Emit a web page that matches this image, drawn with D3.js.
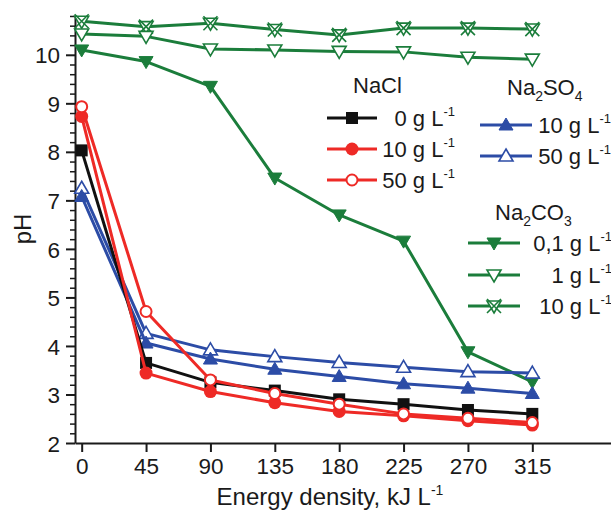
<!DOCTYPE html>
<html><head><meta charset="utf-8">
<script src="https://cdn.jsdelivr.net/npm/d3@7"></script>
<style>body{margin:0;background:#fff}svg{display:block}text{font-family:Arial,"Liberation Sans",sans-serif;fill:#1a1a1a}</style>
</head><body>
<svg id="c" width="611" height="515"></svg>
<script>
const energy = [0,45,90,135,180,225,270,315];
const xTicks = [0,45,90,135,180,225,270,315];
const yTicks = [2,3,4,5,6,7,8,9,10];
const nacl0   = [8.03,3.65,3.25,3.08,2.90,2.80,2.68,2.60];
const nacl10  = [8.73,3.44,3.06,2.83,2.65,2.56,2.46,2.37];
const nacl50  = [8.93,4.71,3.30,3.02,2.80,2.60,2.51,2.42];
const so4_10  = [7.08,4.06,3.73,3.52,3.37,3.22,3.13,3.02];
const so4_50  = [7.25,4.26,3.92,3.78,3.66,3.56,3.47,3.44];
const co3_01  = [10.10,9.86,9.35,7.46,6.70,6.16,3.88,3.26];
const co3_1   = [10.43,10.38,10.12,10.10,10.07,10.06,9.95,9.91];
const co3_10  = [10.69,10.58,10.65,10.52,10.41,10.55,10.55,10.53];

const BLACK="#111", RED="#ee2a26", BLUE="#2c4ca6", GREEN="#1b7d3b";
const series = [
  {v:co3_10, c:GREEN, m:"xtri"},
  {v:co3_1, c:GREEN, m:"tdo"},
  {v:co3_01, c:GREEN, m:"tdf"},
  {v:so4_50, c:BLUE, m:"tuo"},
  {v:so4_10, c:BLUE, m:"tuf"},
  {v:nacl0, c:BLACK, m:"sq"},
  {v:nacl10, c:RED, m:"cf"},
  {v:nacl50, c:RED, m:"co"}
];

const svg = d3.select("#c");
const x = d3.scaleLinear().domain([-4.67,370]).range([75,611]);
const y = d3.scaleLinear().domain([2,10.82]).range([443,15]);

// axes
const xa = svg.append("g").attr("transform","translate(0,443)")
  .call(d3.axisBottom(x).tickValues(xTicks).tickSize(9).tickSizeOuter(0).tickPadding(6));
xa.select(".domain").attr("stroke","#1a1a1a").attr("stroke-width",2);
xa.selectAll(".tick line").attr("stroke","#1a1a1a").attr("stroke-width",2);
xa.selectAll(".tick text").attr("font-size",22.5).attr("fill","#1a1a1a").attr("font-family","Arial, Liberation Sans, sans-serif");

const minor = d3.range(2,10.81,0.2).map(v=>+v.toFixed(1)).filter(v=>Math.abs(v-Math.round(v))>0.01);
const yminor = svg.append("g").attr("transform","translate(75,0)")
  .call(d3.axisLeft(y).tickValues(minor).tickSize(5).tickFormat(""));
yminor.select(".domain").remove();
yminor.selectAll(".tick line").attr("stroke","#1a1a1a").attr("stroke-width",1.5);
const ya = svg.append("g").attr("transform","translate(75,0)")
  .call(d3.axisLeft(y).tickValues(yTicks).tickSize(9).tickSizeOuter(0).tickPadding(6));
ya.select(".domain").attr("stroke","#1a1a1a").attr("stroke-width",2);
ya.selectAll(".tick line").attr("stroke","#1a1a1a").attr("stroke-width",2);
ya.selectAll(".tick text").attr("font-size",22.5).attr("fill","#1a1a1a").attr("dy","0.36em").attr("font-family","Arial, Liberation Sans, sans-serif");

svg.append("text").attr("x",330).attr("y",505).attr("text-anchor","middle").attr("font-size",24)
  .html('Energy density, kJ L<tspan dy="-10" font-size="14">-1</tspan>');
svg.append("text").attr("transform","translate(31,229) rotate(-90)").attr("text-anchor","middle").attr("font-size",24).text("pH");

function marker(g, type, c, cx, cy){
  const s=7;
  if(type==="sq") g.append("rect").attr("x",cx-6).attr("y",cy-6).attr("width",12).attr("height",12).attr("fill",c);
  else if(type==="cf") g.append("circle").attr("cx",cx).attr("cy",cy).attr("r",6.5).attr("fill",c);
  else if(type==="co") g.append("circle").attr("cx",cx).attr("cy",cy).attr("r",5.5).attr("fill","#fff").attr("stroke",c).attr("stroke-width",2);
  else if(type==="tuf"||type==="tuo"){
    const p=`M${cx},${cy-s} L${cx+s},${cy+5} L${cx-s},${cy+5} Z`;
    g.append("path").attr("d",p).attr("fill",type==="tuf"?c:"#fff").attr("stroke",c).attr("stroke-width",type==="tuf"?1:1.6);
  } else if(type==="tdf"||type==="tdo"){
    const p=`M${cx},${cy+s} L${cx+s},${cy-5} L${cx-s},${cy-5} Z`;
    g.append("path").attr("d",p).attr("fill",type==="tdf"?c:"#fff").attr("stroke",c).attr("stroke-width",type==="tdf"?1:1.6);
  } else if(type==="xtri"){
    const p=`M${cx},${cy+s} L${cx+s},${cy-5} L${cx-s},${cy-5} Z`;
    g.append("path").attr("d",p).attr("fill","#fff").attr("stroke",c).attr("stroke-width",1.6);
    g.append("path").attr("d",`M${cx-7},${cy-7} L${cx+7},${cy+7} M${cx+7},${cy-7} L${cx-7},${cy+7}`).attr("stroke",c).attr("stroke-width",1.6);
  }
}

const line = d3.line().x((d,i)=>x(energy[i])).y(d=>y(d));
series.forEach(s=>{
  const g = svg.append("g");
  g.append("path").attr("d",line(s.v)).attr("fill","none").attr("stroke",s.c).attr("stroke-width",3).attr("stroke-linejoin","round");
  s.v.forEach((v,i)=>marker(g,s.m,s.c,x(energy[i]),y(v)));
});

// legends
function legendRow(x0,x1,cy,type,c,label,tx){
  const g=svg.append("g");
  g.append("line").attr("x1",x0).attr("x2",x1).attr("y1",cy).attr("y2",cy).attr("stroke",c).attr("stroke-width",3);
  marker(g,type,c,(x0+x1)/2,cy);
  g.append("text").attr("x",tx).attr("y",cy+8).attr("font-size",22).attr("text-anchor","end")
    .html(label+' g L<tspan dy="-10" font-size="13">-1</tspan>');
}
svg.append("text").attr("x",353).attr("y",93).attr("font-size",22).text("NaCl");
legendRow(327,377,118,"sq",BLACK,"0",455);
legendRow(327,377,149,"cf",RED,"10",455);
legendRow(327,377,180,"co",RED,"50",455);

svg.append("text").attr("x",507).attr("y",95).attr("font-size",22)
  .html('Na<tspan dy="6" font-size="14">2</tspan><tspan dy="-6">SO</tspan><tspan dy="6" font-size="14">4</tspan>');
legendRow(480,532,125,"tuf",BLUE,"10",611);
legendRow(480,532,156,"tuo",BLUE,"50",611);

svg.append("text").attr("x",495).attr("y",220).attr("font-size",22)
  .html('Na<tspan dy="6" font-size="14">2</tspan><tspan dy="-6">CO</tspan><tspan dy="6" font-size="14">3</tspan>');
legendRow(468,520,243,"tdf",GREEN,"0,1",612);
legendRow(468,520,275,"tdo",GREEN,"1",612);
legendRow(468,520,306,"xtri",GREEN,"10",612);
</script>
</body></html>
